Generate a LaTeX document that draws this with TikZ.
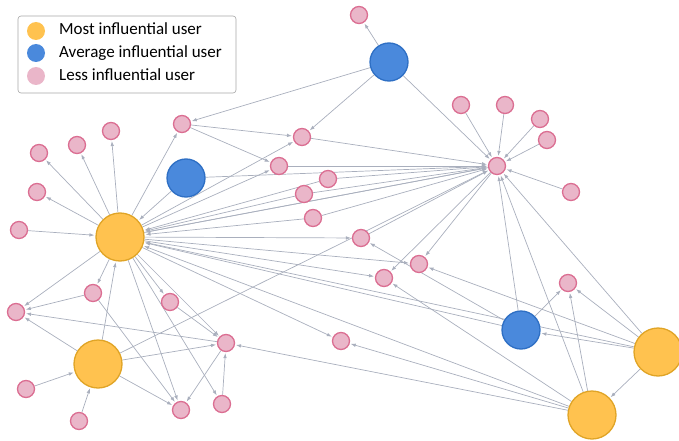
\documentclass[tikz,border=0pt]{standalone}
\usepackage{fontspec}
\setmainfont{Carlito}
\usetikzlibrary{arrows.meta,backgrounds}
\definecolor{mostfill}{HTML}{FFC24F}
\definecolor{mostline}{HTML}{E0A426}
\definecolor{avgfill}{HTML}{4A89DC}
\definecolor{avgline}{HTML}{2E6FC4}
\definecolor{lessfill}{HTML}{EAB6C9}
\definecolor{lessline}{HTML}{DB6E92}
\definecolor{edgegray}{HTML}{A9AFBD}

\begin{document}
\begin{tikzpicture}[
    x=1pt, y=-1pt,
    most/.style={circle,draw=mostline,fill=mostfill,line width=1.3pt,
                 minimum size=48pt,inner sep=0},
    avg/.style={circle,draw=avgline,fill=avgfill,line width=1.3pt,
                minimum size=38pt,inner sep=0},
    less/.style={circle,draw=lessline,fill=lessfill,line width=1.3pt,
                 minimum size=17pt,inner sep=0},
    link/.style={draw=edgegray,line width=0.7pt,
                 -{Latex[length=5pt,width=3.6pt]},shorten >=1pt},
    key/.style={circle,minimum size=18pt,inner sep=0},
    keytext/.style={anchor=base west,inner sep=0,text=black}
]

    \tikzstyle{every node}=[font=\fontsize{17}{20}\selectfont];

    \useasboundingbox (0,0) rectangle (679,441);

    % legend
    \draw[gray!70,line width=0.6pt,rounded corners=3pt] (18,16) rectangle (236,93);
    \node[key,fill=mostfill] (kmost) at (36,31) {};
    \node[key,fill=avgfill] (kavg) at (36,53) {};
    \node[key,fill=lessfill] (kless) at (36,76) {};
    \node[keytext] (tmost) at (59,35) {Most influential user};
    \node[keytext] (tavg) at (59,58) {Average influential user};
    \node[keytext] (tless) at (59,81) {Less influential user};

    % users
    \node[most] (Y1) at (120,237) {};
    \node[most] (Y2) at (98,364) {};
    \node[most] (Y3) at (658,352) {};
    \node[most] (Y4) at (592,415) {};

    \node[avg] (B1) at (389,62) {};
    \node[avg] (B2) at (186,178) {};
    \node[avg] (B3) at (521,330) {};

    \node[less] (H) at (497,166) {};
    \foreach \n/\x/\y in {p1/359/15, p2/461/105, p3/505/105, p4/540/119,
        p5/547/140, p6/571/192, p7/182/124, p8/302/137, p9/279/166,
        p10/328/179, p11/304/194, p12/313/218, p13/111/131, p14/77/145,
        p15/39/153, p16/37/192, p17/19/230, p18/361/238, p19/419/264,
        p20/384/278, p21/568/283, p22/93/293, p23/170/302, p24/16/312,
        p25/226/343, p26/341/341, p27/26/389, p28/79/421, p29/181/410,
        p30/222/404}
        \node[less] (\n) at (\x,\y) {};

    % links
    \begin{scope}[on background layer]
    \foreach \a/\b in {B1/p1, B1/p7, B1/p8, B1/H, p7/p8, p7/p9,
        Y1/p7, Y1/p8, Y1/p9, Y1/p13, Y1/p14, Y1/p15, Y1/p16, p17/Y1,
        B2/Y1, B2/H, p8/H, p9/H, p10/H, p11/H, p12/H, p18/H,
        H/Y1, Y1/H, p10/Y1, p11/Y1, p12/Y1,
        p2/H, p3/H, p4/H, p5/H, p6/H, H/p19, H/p20,
        Y1/p18, Y1/p19, Y1/p20, Y2/H,
        B3/p18, B3/H, B3/p21, B3/Y1,
        Y3/B3, Y3/p21, Y3/H, Y3/Y4, Y3/p19, Y3/Y1,
        Y4/H, Y4/p21, Y4/Y1, Y4/p26, Y4/p25, Y4/p20,
        Y1/p22, Y1/p23, Y1/p24, Y1/p25, Y1/p26, Y1/p29, Y1/p30,
        Y2/Y1, p27/Y2, p28/Y2, Y2/p24, Y2/p25, Y2/p29,
        p22/p24, p22/p29, p23/p25, p25/p29, p30/p25, p25/p24}
        \draw[link] (\a) -- (\b);
    \end{scope}

\end{tikzpicture}
\end{document}
